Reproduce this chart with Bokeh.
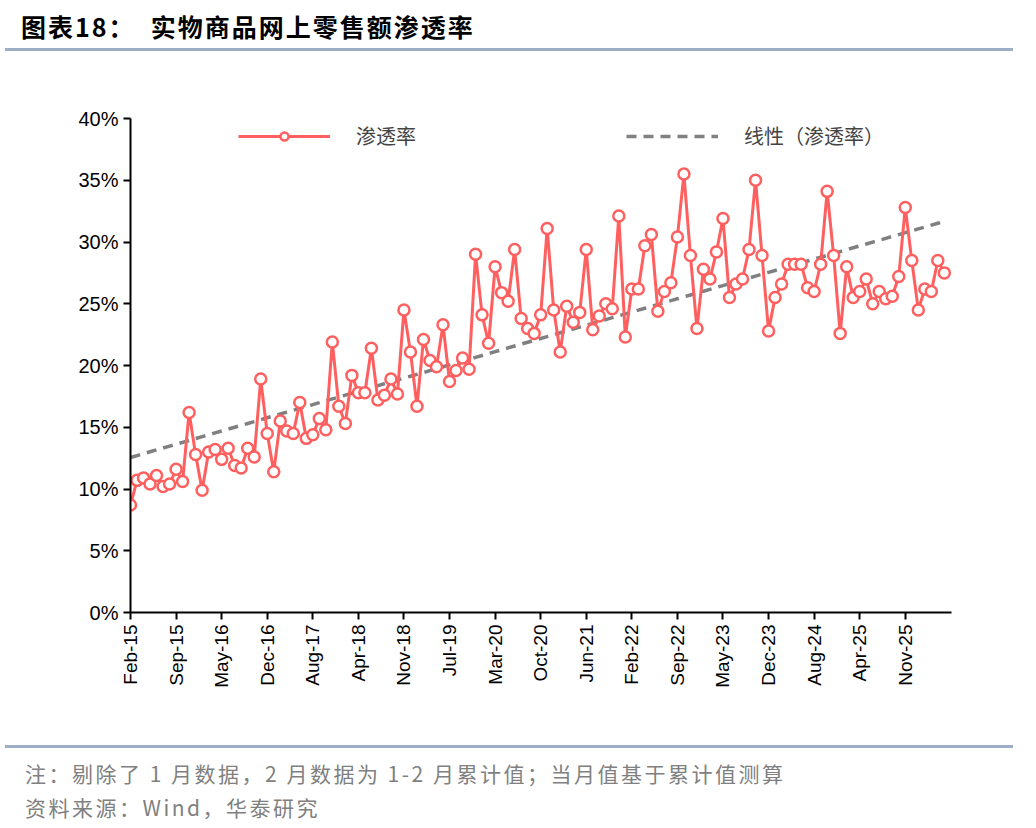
import numpy as np
from bokeh.plotting import figure
from bokeh.layouts import column
from bokeh.models import Div, FixedTicker, PrintfTickFormatter, Legend, LegendItem, Range1d
from bokeh.embed import file_html
from bokeh.resources import INLINE

months = ["Feb","Mar","Apr","May","Jun","Jul","Aug","Sep","Oct","Nov","Dec"]
years = list(range(15, 27))
categories = [f"{m}-{y}" for y in years for m in months]

rate = [
 8.7,10.7,10.9,10.4,11.1,10.2,10.4,11.6,10.6,16.2,12.8,
 9.9,13.0,13.2,12.4,13.3,11.9,11.7,13.3,12.6,18.9,14.5,
 11.4,15.5,14.7,14.5,17.0,14.1,14.4,15.7,14.8,21.9,16.7,
 15.3,19.2,17.8,17.8,21.4,17.2,17.6,18.9,17.7,24.5,21.1,
 16.7,22.1,20.4,19.9,23.3,18.7,19.6,20.6,19.7,29.0,24.1,
 21.8,28.0,25.9,25.2,29.4,23.8,23.0,22.6,24.1,31.1,24.5,
 21.1,24.8,23.5,24.3,29.4,22.9,24.0,25.0,24.6,32.1,22.3,
 26.2,26.2,29.7,30.6,24.4,26.0,26.7,30.4,35.5,28.9,23.0,
 27.8,27.0,29.2,31.9,25.5,26.6,27.0,29.4,35.0,28.9,22.8,
 25.5,26.6,28.2,28.2,28.2,26.3,26.0,28.2,34.1,28.9,22.6,
 28.0,25.5,26.0,27.0,25.0,26.0,25.4,25.6,27.2,32.8,28.5,
 24.5,26.2,26.0,28.5,27.5,
]
categories = categories[:len(rate)]
x = np.arange(len(rate))
coef = np.polyfit(x, rate, 1)
trend = np.polyval(coef, x)

tick_idx = list(range(0, len(rate), 7))
overrides = {i: categories[i] for i in tick_idx}

RED = "#FF5F5F"
title = Div(text="图表18：&nbsp;&nbsp;实物商品网上零售额渗透率", width=1020, height=46,
            styles={"font-family": "Noto Sans CJK SC", "font-weight": "bold", "font-size": "25px",
                    "letter-spacing": "2px",
                    "color": "#000", "border-bottom": "3px solid #9DAEC4", "width": "1008px",
                    "padding-left": "16px", "padding-top": "4px", "box-sizing": "border-box"})

p = figure(width=1020, height=684, output_backend="svg", toolbar_location=None,
           min_border_left=130, min_border_right=69, min_border_top=62, min_border_bottom=128,
           x_range=Range1d(0, 126.1), y_range=Range1d(0, 40))
p.outline_line_color = None
p.xgrid.visible = False
p.ygrid.visible = False

tl = p.line(x, trend, line_color="#808080", line_width=3.5, line_dash="10 7")
rl = p.line(x, rate, line_color=RED, line_width=3)
rs = p.scatter(x, rate, size=11, fill_color="white", line_color=RED, line_width=2.5)

p.yaxis.ticker = FixedTicker(ticks=list(range(0, 41, 5)))
p.yaxis.formatter = PrintfTickFormatter(format="%d%%")
p.xaxis.ticker = FixedTicker(ticks=tick_idx)
p.xaxis.major_label_overrides = overrides
p.xaxis.major_label_orientation = np.pi / 2
for ax in (p.xaxis, p.yaxis):
    ax.axis_line_color = "black"
    ax.axis_line_width = 2
    ax.major_tick_line_color = "black"
    ax.major_tick_line_width = 2
    ax.major_tick_out = 7
    ax.major_tick_in = 0
    ax.minor_tick_line_color = None
    ax.major_label_text_font = "Liberation Sans"
    ax.major_label_text_font_size = "20px"
    ax.major_label_text_color = "black"
p.xaxis.major_label_text_font_size = "19px"

legend = Legend(items=[LegendItem(label="渗透率", renderers=[rl, rs]),
                       LegendItem(label="线性（渗透率）", renderers=[tl])],
                orientation="horizontal", location=(108, 462), border_line_color=None,
                background_fill_alpha=0, label_text_font="Noto Sans CJK SC",
                label_text_font_size="20px", glyph_width=92, spacing=100, label_standoff=26,
                label_width=170, label_height=26)
p.add_layout(legend, "center")

footer = Div(text="注：剔除了 1 月数据，2 月数据为 1-2 月累计值；当月值基于累计值测算<br>资料来源：Wind，华泰研究",
             width=1020, height=80,
             styles={"font-family": "Noto Sans CJK SC", "font-size": "21px", "color": "#808080",
                     "border-top": "3px solid #9DAEC4", "width": "1008px", "line-height": "34px",
                     "letter-spacing": "2.5px", "padding-left": "20px", "box-sizing": "border-box",
                     "padding-top": "8px"})

layout = column(title, p, footer, spacing=0)
open("out.html", "w").write(file_html(layout, INLINE))
